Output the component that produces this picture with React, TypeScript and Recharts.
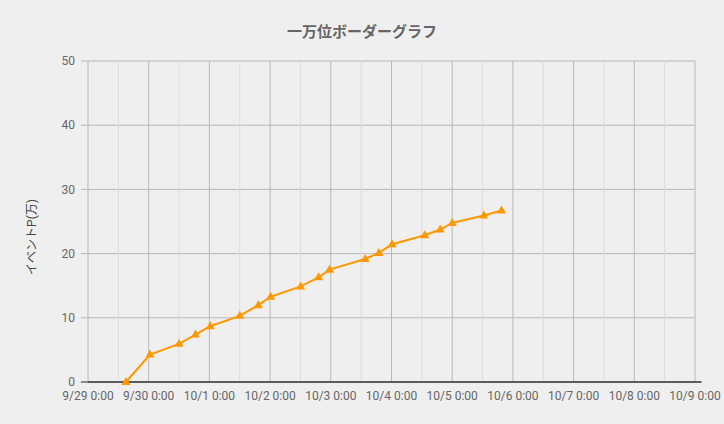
import { LineChart, Line, XAxis, YAxis, CartesianGrid, ReferenceLine } from 'recharts';

const TITLE = '一万位ボーダーグラフ';
const Y_LABEL = 'イベントP(万)';

// 集計時刻と一万位ボーダー（万pt）
const times = [
  '9/29 15:00', '9/30 0:30', '9/30 12:00', '9/30 18:30', '10/1 0:20', '10/1 12:00',
  '10/1 19:20', '10/2 0:15', '10/2 12:05', '10/2 19:10', '10/2 23:30', '10/3 13:35',
  '10/3 19:00', '10/4 0:15', '10/4 13:10', '10/4 19:15', '10/5 0:00', '10/5 12:30',
  '10/5 19:30',
];
const border = [
  0, 4.27, 5.94, 7.39, 8.69, 10.3,
  11.97, 13.28, 14.89, 16.3, 17.5, 19.16,
  20.1, 21.45, 22.86, 23.75, 24.78, 25.94,
  26.72,
];

const dayLabels = [
  '9/29 0:00', '9/30 0:00', '10/1 0:00', '10/2 0:00', '10/3 0:00', '10/4 0:00',
  '10/5 0:00', '10/6 0:00', '10/7 0:00', '10/8 0:00', '10/9 0:00',
];
const yTicks = [0, 10, 20, 30, 40, 50];

// 9/29 0:00 からの経過時間(h)
const toHours = (s: string) => {
  const [date, time] = s.split(' ');
  const [m, d] = date.split('/').map(Number);
  const [hh, mm] = time.split(':').map(Number);
  const day = m === 9 ? d - 29 : d + 1;
  return day * 24 + hh + mm / 60;
};

const data = times.map((t, i) => ({ h: toHours(t), value: border[i] }));
const xTicks = dayLabels.map(toHours);
const minorTicks = xTicks.slice(0, -1).map(h => h + 12);
const xMax = xTicks[xTicks.length - 1];

const Triangle = ({ cx, cy }: any) => {
  if (cx == null || cy == null) return null;
  return <path d={`M${cx},${cy - 5} L${cx + 4.5},${cy + 3} L${cx - 4.5},${cy + 3} Z`} fill="#ff9800" />;
};

const App = () => (
  <div style={{ width: 724, height: 424, background: '#efefef', position: 'relative' }}>
    <style>{`body{margin:0;background:#efefef}`}</style>
    <div
      style={{
        position: 'absolute', top: 20, left: 0, width: 724, textAlign: 'center',
        fontFamily: 'Roboto, "Noto Sans CJK JP", sans-serif', fontWeight: 'bold', fontSize: 15, color: '#666',
      }}
    >
      {TITLE}
    </div>
    <div
      style={{
        position: 'absolute', left: 30, top: 237, transform: 'translate(-50%, -50%) rotate(-90deg)',
        fontFamily: 'Roboto, "Noto Sans CJK JP", sans-serif', fontSize: 12, color: '#444', whiteSpace: 'nowrap',
      }}
    >
      {Y_LABEL}
    </div>
    <LineChart
      width={724}
      height={424}
      data={data}
      margin={{ top: 61, right: 29, left: 0, bottom: 12 }}
      style={{ fontFamily: 'Roboto, sans-serif' }}
    >
      <CartesianGrid stroke="#b8b8b8" strokeWidth={1} />
      {minorTicks.map(h => (
        <ReferenceLine key={h} x={h} stroke="#dcdcdc" strokeWidth={1} />
      ))}
      <XAxis
        dataKey="h"
        type="number"
        domain={[0, xMax]}
        ticks={xTicks}
        tickFormatter={(v: number) => dayLabels[xTicks.indexOf(v)] ?? ''}
        tick={{ fontSize: 12, fill: '#666' }}
        tickLine={false}
        tickSize={0}
        tickMargin={9}
        axisLine={false}
        height={30}
        interval={0}
      />
      <YAxis
        type="number"
        domain={[0, 50]}
        ticks={yTicks}
        tick={{ fontSize: 12, fill: '#666' }}
        tickLine={{ stroke: '#b8b8b8' }}
        tickSize={7}
        tickMargin={6}
        axisLine={false}
        width={88}
        interval={0}
      />
      <ReferenceLine
        segment={[{ x: -2.8, y: 0 }, { x: xMax + 2.6, y: 0 }]}
        stroke="#333"
        strokeWidth={1.5}
        ifOverflow="visible"
      />
      <Line
        type="linear"
        dataKey="value"
        stroke="#ff9800"
        strokeWidth={2}
        dot={<Triangle />}
        activeDot={false}
        isAnimationActive={false}
      />
    </LineChart>
  </div>
);

export default App;
